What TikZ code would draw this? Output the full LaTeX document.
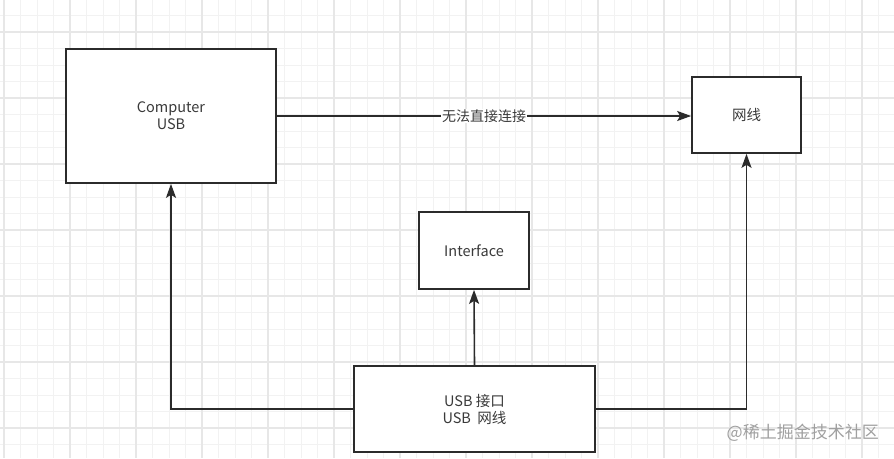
\documentclass[tikz,border=0pt]{standalone}
\usepackage{fontspec}
\setmainfont{Noto Sans CJK SC}
\usetikzlibrary{arrows.meta}
\definecolor{gridminor}{HTML}{F2F2F2}
\definecolor{gridmajor}{HTML}{E7E7E7}
\definecolor{ink}{HTML}{2B2B2B}
\definecolor{txt}{HTML}{3A3A3A}
\definecolor{wm}{HTML}{A0A0A0}
\tikzset{
  box/.style={draw=ink, line width=1.7pt, fill=white, inner sep=0pt, align=center, text=txt, font=\fontsize{14.5}{17}\selectfont},
  conn/.style={draw=ink, line width=1.6pt, -{Stealth[length=14pt,width=10pt,inset=3pt]}},
}
\begin{document}
\begin{tikzpicture}[x=1pt,y=-1pt]
\useasboundingbox (0,0) rectangle (894,458);
\fill[white] (0,0) rectangle (894,458);
% grid
\foreach \k in {0,...,54} {
  \pgfmathsetmacro\xx{4+16.5*\k}
  \draw[gridminor, line width=0.9pt] (\xx,0) -- (\xx,458);
}
\foreach \k in {1,...,28} {
  \pgfmathsetmacro\yy{-1+16.5*\k}
  \draw[gridminor, line width=0.9pt] (0,\yy) -- (894,\yy);
}
\foreach \k in {0,...,13} {
  \pgfmathsetmacro\xx{4+66*\k}
  \draw[gridmajor, line width=1.1pt] (\xx,0) -- (\xx,458);
}
\foreach \k in {0,...,6} {
  \pgfmathsetmacro\yy{32+66*\k}
  \draw[gridmajor, line width=1.1pt] (0,\yy) -- (894,\yy);
}
% boxes
\node[box, minimum width=210pt, minimum height=134pt] (comp) at (171,116) {Computer\\USB};
\node[box, minimum width=109pt, minimum height=76pt] (net) at (746.5,115) {网线};
\node[box, minimum width=110pt, minimum height=77pt] (iface) at (474,250.5) {Interface};
\node[box, minimum width=241pt, minimum height=86pt] (usb) at (474.5,409) {USB 接口\\USB\ \ 网线};
% connectors
\draw[conn] (comp.east) -- node[fill=white, inner sep=1pt, text=txt, font=\fontsize{14}{17}\selectfont] (lbl) {无法直接连接} (comp.east -| net.west);
\draw[conn] (usb.north) -- (iface.south);
\draw[conn] (usb.west) -| (comp.south);
\draw[conn] (usb.east) -| (net.south);
% watermark
\node[text=wm, font=\fontsize{17}{20}\selectfont, anchor=east, inner sep=0pt] (wmk) at (879,433) {@稀土掘金技术社区};
\end{tikzpicture}
\end{document}
